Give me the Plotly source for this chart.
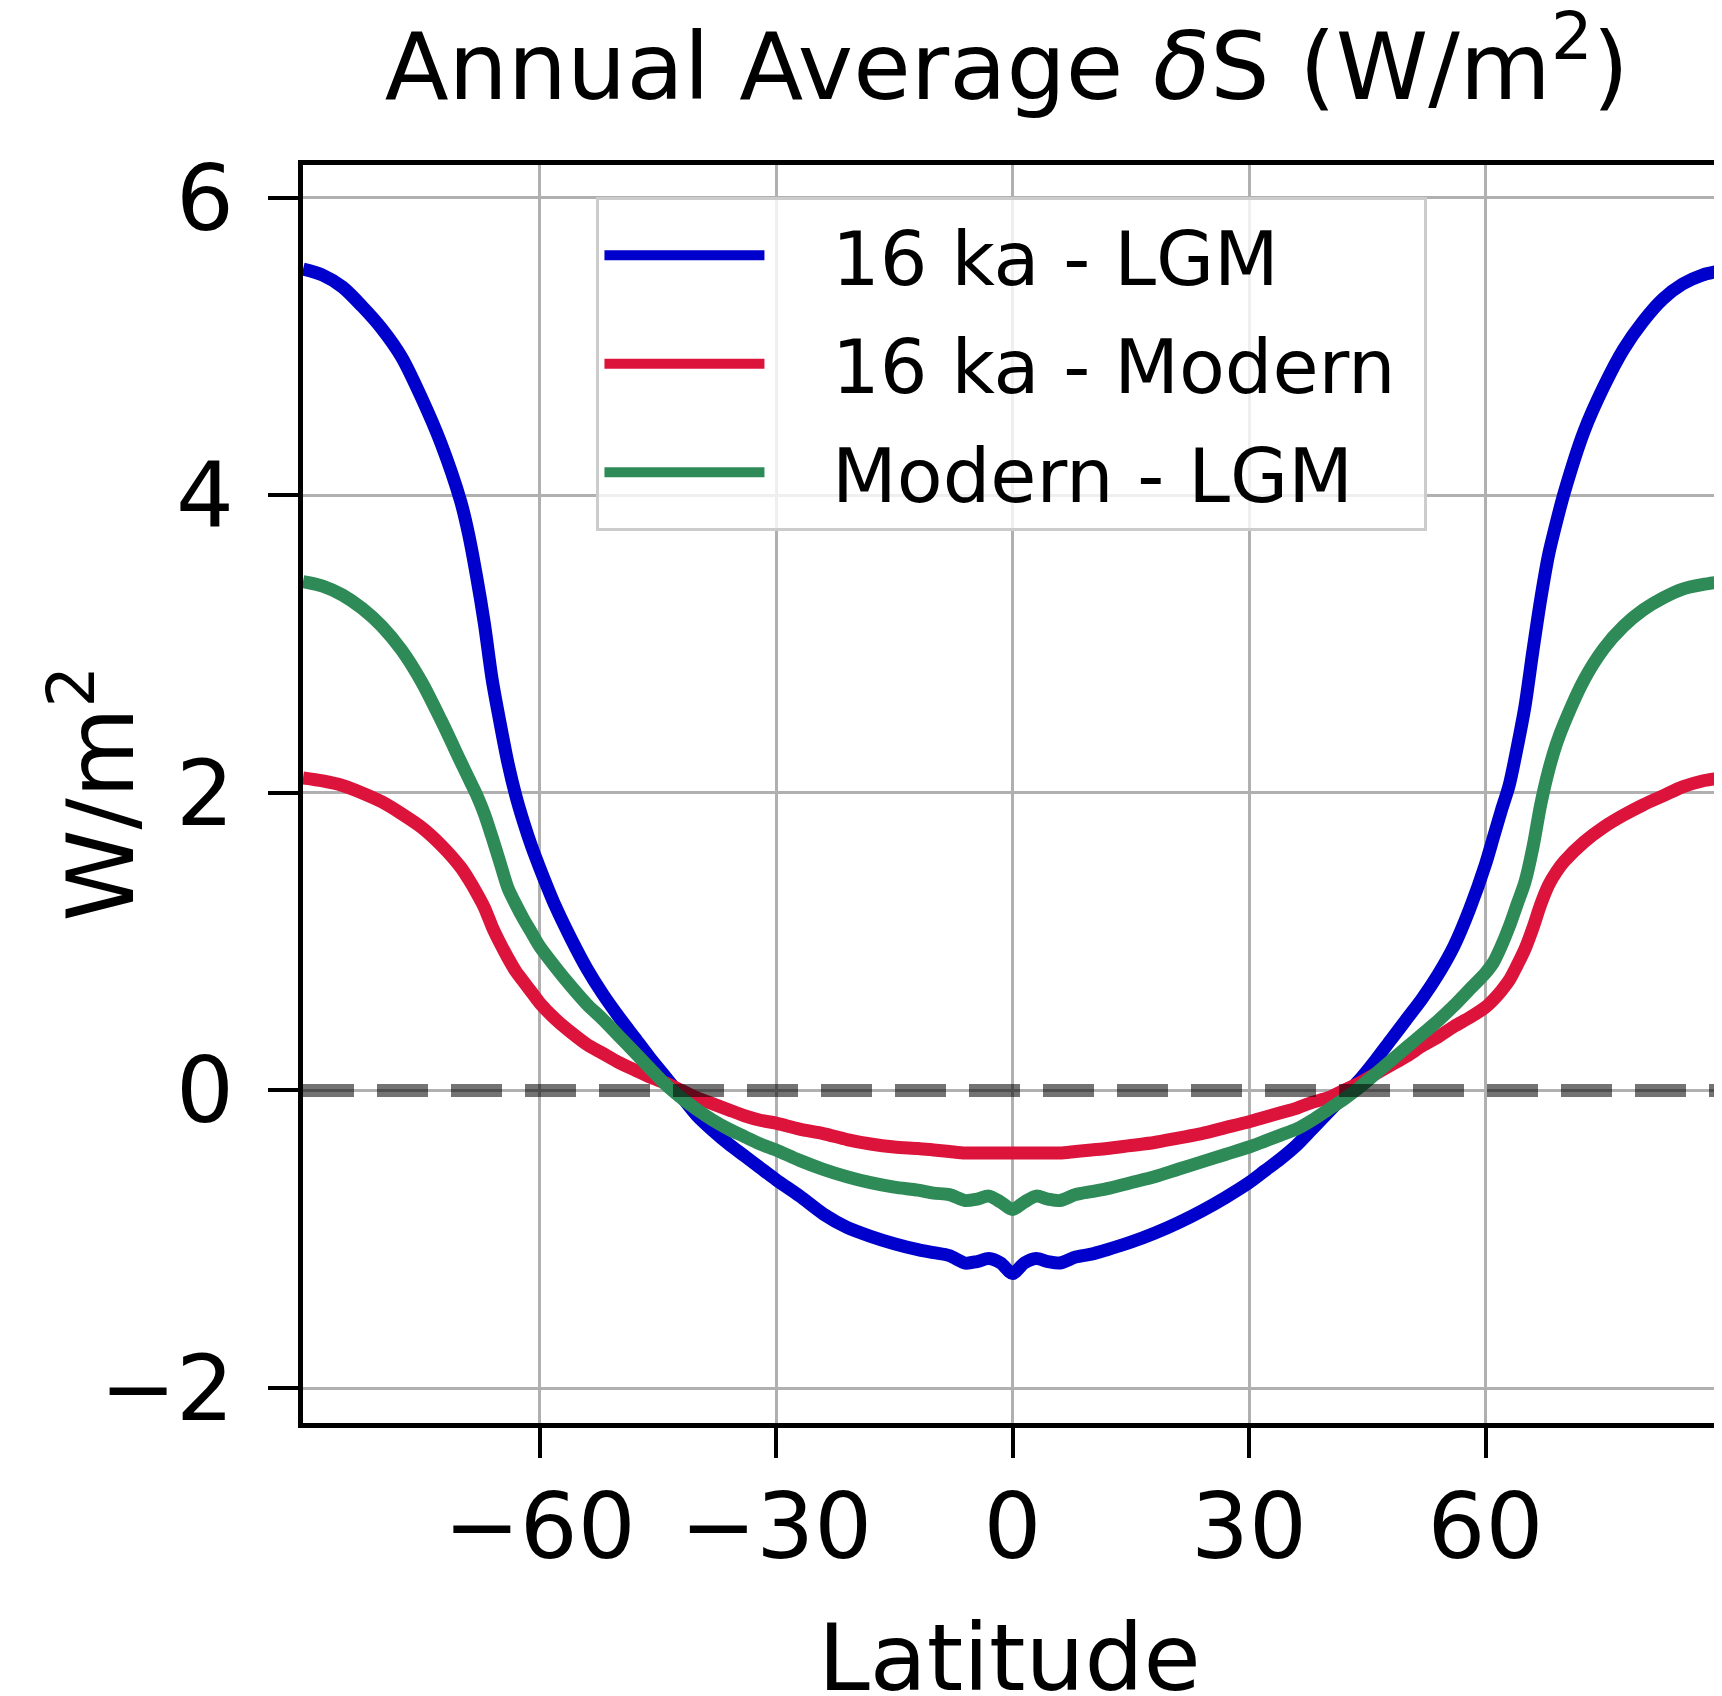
import plotly.graph_objects as go

lat = [-90, -87.5, -85, -82.5, -80, -77.5, -75, -72.5, -70, -69, -68, -67, -66, -65, -64,
       -63, -62, -61, -60, -58, -56, -54, -52, -50, -48, -46, -44, -42, -40, -38, -36,
       -34, -32, -30, -27, -24, -21, -18, -15, -12, -10, -8, -6, -4.5, -3, -1.5, 0,
       1.5, 3, 4.5, 6, 8, 10, 12, 15, 18, 21, 24, 27, 30, 32, 34, 36, 38, 40, 42, 44,
       46, 48, 50, 52, 54, 56, 58, 60, 61, 62, 63, 64, 65, 66, 67, 68, 69, 70, 72.5,
       75, 77.5, 80, 82.5, 85, 87.5, 90]

ka16_minus_lgm = [5.52, 5.48, 5.40, 5.27, 5.12, 4.93, 4.66, 4.35, 3.96, 3.74, 3.46, 3.14, 2.76, 2.47, 2.20,
                  1.98, 1.80, 1.64, 1.50, 1.24, 1.02, 0.82, 0.65, 0.50, 0.36, 0.22, 0.09, -0.04, -0.17, -0.27, -0.36,
                  -0.44, -0.52, -0.60, -0.71, -0.83, -0.92, -0.98, -1.03, -1.07, -1.09, -1.11, -1.16, -1.15, -1.13, -1.16, -1.23,
                  -1.16, -1.13, -1.15, -1.16, -1.12, -1.10, -1.07, -1.02, -0.96, -0.89, -0.81, -0.72, -0.62, -0.54, -0.46, -0.37, -0.26, -0.15, -0.04, 0.07,
                  0.20, 0.34, 0.48, 0.62, 0.78, 0.97, 1.22, 1.52, 1.70, 1.88, 2.05, 2.30, 2.58, 2.95, 3.30, 3.60, 3.82, 4.02, 4.43,
                  4.73, 4.98, 5.17, 5.32, 5.42, 5.48, 5.51]

ka16_minus_modern = [2.10, 2.08, 2.05, 2.00, 1.94, 1.86, 1.77, 1.65, 1.50, 1.42, 1.33, 1.23, 1.10, 0.99, 0.89,
                     0.80, 0.73, 0.66, 0.59, 0.48, 0.39, 0.31, 0.25, 0.19, 0.14, 0.09, 0.05, 0.00, -0.05, -0.09, -0.13,
                     -0.17, -0.20, -0.22, -0.26, -0.29, -0.33, -0.36, -0.38, -0.39, -0.40, -0.41, -0.42, -0.42, -0.42, -0.42, -0.42,
                     -0.42, -0.42, -0.42, -0.42, -0.41, -0.40, -0.39, -0.37, -0.35, -0.32, -0.29, -0.25, -0.21, -0.18, -0.15, -0.12, -0.08, -0.05, 0.00, 0.05,
                     0.11, 0.17, 0.23, 0.30, 0.36, 0.43, 0.49, 0.56, 0.61, 0.67, 0.74, 0.84, 0.95, 1.09, 1.25, 1.38, 1.47, 1.54, 1.67,
                     1.77, 1.85, 1.92, 1.98, 2.04, 2.08, 2.10]

modern_minus_lgm = [3.42, 3.39, 3.33, 3.24, 3.12, 2.96, 2.75, 2.49, 2.21, 2.10, 1.99, 1.86, 1.70, 1.53, 1.36,
                    1.25, 1.15, 1.06, 0.97, 0.83, 0.70, 0.58, 0.48, 0.37, 0.26, 0.15, 0.04, -0.05, -0.13, -0.20, -0.26,
                    -0.31, -0.36, -0.40, -0.47, -0.53, -0.58, -0.62, -0.65, -0.67, -0.69, -0.70, -0.74, -0.73, -0.71, -0.75, -0.80,
                    -0.75, -0.71, -0.73, -0.74, -0.70, -0.68, -0.66, -0.62, -0.58, -0.53, -0.48, -0.43, -0.38, -0.34, -0.30, -0.26, -0.20, -0.13, -0.06, 0.02,
                    0.11, 0.20, 0.29, 0.38, 0.47, 0.57, 0.68, 0.79, 0.86, 0.97, 1.10, 1.25, 1.40, 1.63, 1.92, 2.15, 2.33, 2.47, 2.76,
                    2.97, 3.12, 3.23, 3.31, 3.37, 3.40, 3.42]

series_names = ["16 ka - LGM", "16 ka - Modern", "Modern - LGM"]
series_colors = ["#0000CD", "#DC143C", "#2E8B57"]
series_values = [ka16_minus_lgm, ka16_minus_modern, modern_minus_lgm]

x_ticks = [-60, -30, 0, 30, 60]
y_ticks = [-2, 0, 2, 4, 6]

FONT = "DejaVu Sans"
PAD_LEFT = "\u00a0\u00a0\u2009"
PAD_RIGHT = "\u00a0"

fig = go.Figure()
for i, (name, color, vals) in enumerate(zip(series_names, series_colors, series_values)):
    fig.add_trace(go.Scatter(x=lat, y=vals, mode="lines", name=PAD_LEFT + name + PAD_RIGHT,
                             legendgroup=f"g{i}",
                             line=dict(color=color, width=13, shape="spline", smoothing=0.8)))

fig.add_hline(y=0, line=dict(color="rgba(0,0,0,0.55)", width=13, dash="51px,23px"),
              layer="above")

axis_common = dict(
    showline=True, mirror=True, linecolor="black", linewidth=5,
    ticks="outside", ticklen=30, tickwidth=4, tickcolor="black",
    showgrid=True, gridcolor="#b0b0b0", gridwidth=3,
    zeroline=False,
    tickfont=dict(family=FONT, size=91, color="black"),
)

fig.update_layout(
    width=1722, height=1696,
    margin=dict(l=295, r=3, t=157, b=281),
    paper_bgcolor="white", plot_bgcolor="white",
    font=dict(family=FONT, color="black"),
    title=dict(text="Annual Average <i>δ</i>S (W/m<sup>2</sup>)",
               x=0.496, xref="paper", xanchor="center",
               y=0.9658, yref="container", yanchor="middle",
               font=dict(family=FONT, size=93.5, color="black")),
    xaxis=dict(range=[-90, 90], tickvals=x_ticks, ticklabelstandoff=-9, **axis_common),
    yaxis=dict(range=[-2.235, 6.22], tickvals=y_ticks, ticklabelstandoff=16, **axis_common),
    showlegend=True,
    legend=dict(x=0.2068, y=0.9745, xanchor="left", yanchor="top",
                bgcolor="rgba(255,255,255,0.8)", bordercolor="#cccccc", borderwidth=3,
                font=dict(family=FONT, size=75, color="black"),
                itemwidth=160, tracegroupgap=8),
    annotations=[
        dict(text="Latitude", xref="paper", yref="paper", x=0.498, y=-0.1868,
             xanchor="center", yanchor="middle", showarrow=False,
             font=dict(family=FONT, size=93, color="black")),
        dict(text="W/m<sup>2</sup>", xref="paper", yref="paper", x=-0.147, y=0.5,
             xanchor="center", yanchor="middle", showarrow=False, textangle=-90,
             font=dict(family=FONT, size=93, color="black")),
    ],
)

fig.write_html("out.html")
